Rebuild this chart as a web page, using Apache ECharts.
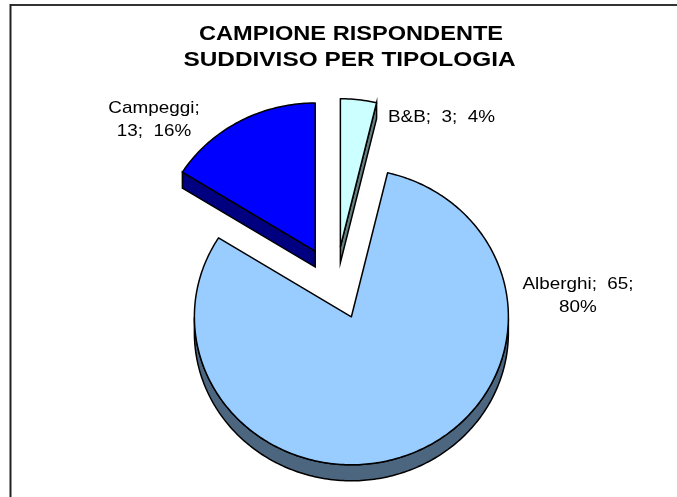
<!DOCTYPE html>
<html><head><meta charset="utf-8">
<style>html,body{margin:0;padding:0;background:#fff}#c{width:677px;height:497px}</style>
<script src="https://cdn.jsdelivr.net/npm/echarts@6/dist/echarts.min.js"></script>
</head><body><div id="c"></div>
<script>
const titleLines = ['CAMPIONE RISPONDENTE', 'SUDDIVISO PER TIPOLOGIA'];
const categories = ['B&B', 'Alberghi', 'Campeggi'];
const values = [3, 65, 13];
const percents = [4, 80, 16];
const topColors = ['#ccffff', '#99ccff', '#0000ff'];
const wallColors = ['#668080', '#4d6680', '#000080'];
const labelLines = [['B&B;  3;  4%'], ['Alberghi;  65;', '80%'], ['Campeggi;', '13;  16%']];
const labelAnchors = [[441.5, 117], [578, 284], [154, 108]];

const total = values.reduce((a, b) => a + b, 0);
const C = [335.5, 283], RX = 157, RY = 148, EX = 42, EY = 36.5, DEPTH = 16;

function renderItem(params, api) {
  const i = params.dataIndex;
  let before = 0;
  for (let k = 0; k < i; k++) before += values[k];
  const a0 = before / total * 2 * Math.PI;
  const a1 = (before + api.value(0)) / total * 2 * Math.PI;
  const mid = (a0 + a1) / 2;
  const cx = C[0] + EX * Math.sin(mid), cy = C[1] - EY * Math.cos(mid);
  const pts = [[cx, cy]];
  const n = Math.max(8, Math.ceil((a1 - a0) * 60));
  for (let s = 0; s <= n; s++) {
    const a = a0 + (a1 - a0) * s / n;
    pts.push([cx + RX * Math.sin(a), cy - RY * Math.cos(a)]);
  }
  const closed = pts.concat([pts[0]]);
  const children = [];
  let run = [];
  const flush = () => {
    if (run.length > 1) {
      const poly = run.concat(run.slice().reverse().map(p => [p[0], p[1] + DEPTH]));
      children.push({ type: 'polygon', shape: { points: poly },
        style: { fill: wallColors[i], stroke: '#000', lineWidth: 1.5 } });
    }
    run = [];
  };
  for (let s = 0; s < closed.length - 1; s++) {
    if (closed[s + 1][0] - closed[s][0] < -0.01) {
      if (!run.length) run.push(closed[s]);
      run.push(closed[s + 1]);
    } else flush();
  }
  flush();
  children.push({ type: 'polygon', shape: { points: pts },
    style: { fill: topColors[i], stroke: '#000', lineWidth: 1.5, lineJoin: 'round' } });
  labelLines[i].forEach((t, j) => {
    children.push({ type: 'text', x: labelAnchors[i][0], y: labelAnchors[i][1] + j * 23.5, scaleX: 1.11,
      style: { text: t, x: 0, y: 0, align: 'center', verticalAlign: 'middle', fill: '#000',
      font: '17px "Liberation Sans", Arial, sans-serif' } });
  });
  return { type: 'group', children };
}

const chart = echarts.init(document.getElementById('c'), null, { renderer: 'canvas' });
chart.setOption({
  animation: false,
  backgroundColor: '#fff',
  graphic: [
    { type: 'line', silent: true, shape: { x1: 10.5, y1: 5, x2: 677, y2: 5 }, style: { stroke: '#333', lineWidth: 2 } },
    { type: 'line', silent: true, shape: { x1: 10.5, y1: 4, x2: 10.5, y2: 497 }, style: { stroke: '#222', lineWidth: 2 } },
    { type: 'text', silent: true, x: 351, y: 34, scaleX: 1.18,
      style: { text: titleLines[0], x: 0, y: 0, align: 'center', verticalAlign: 'middle', fill: '#000', font: 'bold 20px "Liberation Sans", Arial, sans-serif' } },
    { type: 'text', silent: true, x: 349.5, y: 60.5, scaleX: 1.22,
      style: { text: titleLines[1], x: 0, y: 0, align: 'center', verticalAlign: 'middle', fill: '#000', font: 'bold 20px "Liberation Sans", Arial, sans-serif' } }
  ],
  series: [{ type: 'custom', coordinateSystem: 'none', renderItem,
    data: categories.map((n, i) => ({ name: n, value: [values[i], percents[i]] })) }]
});
</script></body></html>
